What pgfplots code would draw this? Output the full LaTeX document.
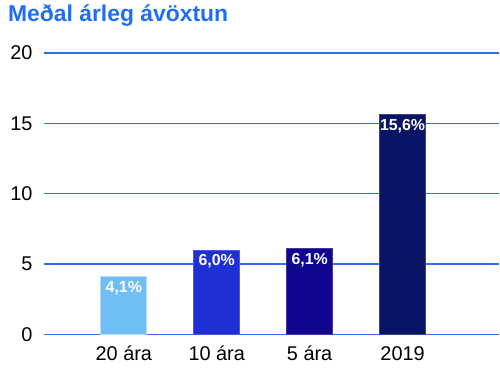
\documentclass[border=0pt]{standalone}
\usepackage{pgfplots}
\pgfplotsset{compat=1.18}
\usepackage{fontspec}
\setmainfont{Liberation Sans}
\definecolor{titleblue}{HTML}{1F6FF5}
\definecolor{gridblue}{HTML}{2F6EF2}
\definecolor{cA}{HTML}{6FBFF5}
\definecolor{cAb}{HTML}{B5DDFA}
\definecolor{cB}{HTML}{1F2FD6}
\definecolor{cC}{HTML}{10058F}
\definecolor{cD}{HTML}{0A1466}
\begin{document}
\begin{tikzpicture}
\begin{axis}[
  scale only axis,
  width=456bp, height=282bp,
  at={(0,0)}, anchor=south west,
  xmin=-0.86, xmax=4.04,
  ymin=0, ymax=20,
  ytick={0,5,10,15,20},
  xtick={0,1,2,3},
  xticklabels={20 ára,10 ára,5 ára,2019},
  axis line style={draw=none},
  tick style={draw=none},
  ymajorgrids,
  grid style={gridblue, line width=1.6bp},
  ticklabel style={font=\fontsize{20}{23}\selectfont, text=black},
  yticklabel style={xshift=-8bp},
  xticklabel style={yshift=-4bp},
  /pgf/number format/assume math mode=true,
  ybar, bar width=46bp, bar shift=0pt,
  point meta=explicit symbolic,
  nodes near coords,
  every node near coord/.append style={anchor=north, yshift=-1bp, text=white, font=\bfseries\fontsize{16}{18}\selectfont},
  clip=false,
]
\addplot[fill=cA, draw=cAb, line width=1.2bp] table[meta=l] {
x y l
0 4.1 {4,1\%}
};
\addplot[fill=cB, draw=cB!80!white, line width=0.8bp] table[meta=l] {
x y l
1 6.0 {6,0\%}
};
\addplot[fill=cC, draw=cC!80!white, line width=0.8bp] table[meta=l] {
x y l
2 6.1 {6,1\%}
};
\addplot[fill=cD, draw=cD!80!white, line width=0.8bp] table[meta=l] {
x y l
3 15.6 {15,6\%}
};
\end{axis}
\node[anchor=base west, text=titleblue, font=\bfseries\fontsize{23}{26}\selectfont, inner sep=0pt] at (-36bp,313bp) {Meðal árleg ávöxtun};
\path[use as bounding box] (-44bp,-42bp) rectangle (456bp,335bp);
\end{tikzpicture}
\end{document}
